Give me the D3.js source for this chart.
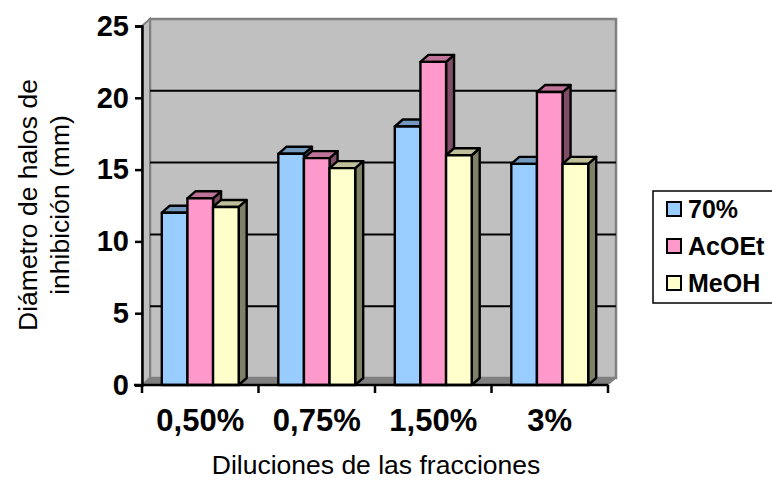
<!DOCTYPE html>
<html>
<head>
<meta charset="utf-8">
<script src="https://cdn.jsdelivr.net/npm/d3@7"></script>
<style>
  html, body { margin: 0; padding: 0; background: #ffffff; }
  svg { display: block; font-family: "Liberation Sans", Arial, sans-serif; }
</style>
</head>
<body>
<svg id="chart" width="772" height="481"></svg>
<script>
// Inhibition halo diameter (mm) per dilution and extract fraction
const categories = ["0,50%", "0,75%", "1,50%", "3%"];
const seriesNames = ["70%", "AcOEt", "MeOH"];
const values70 = [12, 16.1, 18, 15.4];
const valuesAcOEt = [13, 15.8, 22.5, 20.4];
const valuesMeOH = [12.4, 15.1, 16, 15.4];
const yTicks = [0, 5, 10, 15, 20, 25];

const seriesValues = [values70, valuesAcOEt, valuesMeOH];
const frontColors = ["#99ccff", "#ff99cc", "#ffffcc"];
const topColors = ["#7399bf", "#bf7399", "#bfbf99"];
const sideColors = ["#4c6680", "#804c66", "#808066"];

const svg = d3.select("#chart");

// Plot geometry (front plane) and 3D depth offset
const plotLeft = 142, plotRight = 608, plotBottom = 385, plotTop = 26;
const dx = 8, dy = -7;

const y = d3.scaleLinear().domain([0, 25]).range([plotBottom, plotTop]);
const x = d3.scaleBand().domain(categories).range([plotLeft, plotRight])
  .paddingInner(0.34).paddingOuter(0.17);
const xs = d3.scaleBand().domain(seriesNames).range([0, x.bandwidth()]);

const poly = pts => pts.map(p => p.join(",")).join(" ");

// Back wall
svg.append("polygon")
  .attr("points", poly([[plotLeft + dx, plotTop + dy], [plotRight + dx, plotTop + dy], [plotRight + dx, plotBottom + dy], [plotLeft + dx, plotBottom + dy]]))
  .attr("fill", "#c0c0c0").attr("stroke", "#808080").attr("stroke-width", 2.5);
// Side wall
svg.append("polygon")
  .attr("points", poly([[plotLeft, plotBottom], [plotLeft, plotTop], [plotLeft + dx, plotTop + dy], [plotLeft + dx, plotBottom + dy]]))
  .attr("fill", "#c0c0c0").attr("stroke", "#808080").attr("stroke-width", 2);

// Gridlines on the back wall
svg.append("g").selectAll("line")
  .data(yTicks.filter(v => v > 0 && v < 25))
  .join("line")
  .attr("x1", plotLeft + dx).attr("x2", plotRight + dx)
  .attr("y1", d => y(d) + dy).attr("y2", d => y(d) + dy)
  .attr("stroke", "#000").attr("stroke-width", 2);

// Floor
svg.append("polygon")
  .attr("points", poly([[plotLeft, plotBottom], [plotRight, plotBottom], [plotRight + dx, plotBottom + dy], [plotLeft + dx, plotBottom + dy]]))
  .attr("fill", "#808080").attr("stroke", "#808080").attr("stroke-width", 1);

// 3D columns
const bars = [];
categories.forEach((c, ci) => {
  seriesNames.forEach((s, si) => {
    bars.push({ c, s, si, v: seriesValues[si][ci] });
  });
});
const barG = svg.append("g");
bars.forEach(b => {
  const x0 = x(b.c) + xs(b.s), x1 = x0 + xs.bandwidth();
  const y0 = y(0), y1 = y(b.v);
  const g = barG.append("g").attr("stroke", "#000").attr("stroke-width", 2.4).attr("stroke-linejoin", "round");
  g.append("polygon")
    .attr("points", poly([[x1, y0], [x1, y1], [x1 + dx, y1 + dy], [x1 + dx, y0 + dy]]))
    .attr("fill", sideColors[b.si]);
  g.append("polygon")
    .attr("points", poly([[x0, y1], [x1, y1], [x1 + dx, y1 + dy], [x0 + dx, y1 + dy]]))
    .attr("fill", topColors[b.si]);
  g.append("rect")
    .attr("x", x0).attr("y", y1).attr("width", x1 - x0).attr("height", y0 - y1)
    .attr("fill", frontColors[b.si]);
});

// Y axis
const yAxis = svg.append("g")
  .attr("transform", `translate(${plotLeft},0)`)
  .call(d3.axisLeft(y).tickValues(yTicks).tickSize(7).tickPadding(6).tickFormat(d3.format("d")));
yAxis.select(".domain").attr("stroke", "#000").attr("stroke-width", 2.5);
yAxis.selectAll(".tick line").attr("stroke", "#000").attr("stroke-width", 2.5);
yAxis.selectAll(".tick text")
  .attr("font-family", "'Liberation Sans', Arial, sans-serif")
  .attr("font-size", 29).attr("font-weight", "bold").attr("fill", "#000");

// X axis: baseline, boundary ticks, category labels
svg.append("line")
  .attr("x1", plotLeft - 8).attr("x2", plotRight).attr("y1", plotBottom).attr("y2", plotBottom)
  .attr("stroke", "#000").attr("stroke-width", 2.5);
svg.append("g").selectAll("line")
  .data(d3.range(categories.length + 1))
  .join("line")
  .attr("x1", i => plotLeft + i * x.step()).attr("x2", i => plotLeft + i * x.step())
  .attr("y1", plotBottom).attr("y2", plotBottom + 8)
  .attr("stroke", "#000").attr("stroke-width", 2.5);
svg.append("g").selectAll("text")
  .data(categories)
  .join("text")
  .attr("x", d => x(d) + x.bandwidth() / 2)
  .attr("y", 431)
  .attr("text-anchor", "middle")
  .attr("font-size", 31).attr("font-weight", "bold")
  .text(d => d);

// Axis titles
svg.append("text")
  .attr("x", 376).attr("y", 474)
  .attr("text-anchor", "middle")
  .attr("font-size", 26.5)
  .text("Diluciones de las fracciones");
const yTitle = svg.append("text")
  .attr("transform", "translate(28,205) rotate(-90)")
  .attr("text-anchor", "middle")
  .attr("font-size", 26.5);
yTitle.append("tspan").attr("x", 0).attr("dy", "0.35em").text("Diámetro de halos de");
yTitle.append("tspan").attr("x", 0).attr("dy", 32).text("inhibición (mm)");

// Legend
const legend = svg.append("g");
legend.append("rect")
  .attr("x", 653).attr("y", 191).attr("width", 140).attr("height", 112)
  .attr("fill", "#fff").attr("stroke", "#000").attr("stroke-width", 1.5);
const item = legend.selectAll("g.item")
  .data(seriesNames)
  .join("g")
  .attr("class", "item")
  .attr("transform", (d, i) => `translate(667,${209 + i * 37})`);
item.append("rect")
  .attr("x", 0).attr("y", -7).attr("width", 14).attr("height", 14)
  .attr("fill", (d, i) => frontColors[i]).attr("stroke", "#000").attr("stroke-width", 2);
item.append("text")
  .attr("x", 21).attr("y", 0).attr("dy", "0.35em")
  .attr("font-size", 25).attr("font-weight", "bold")
  .text(d => d);
</script>
</body>
</html>
